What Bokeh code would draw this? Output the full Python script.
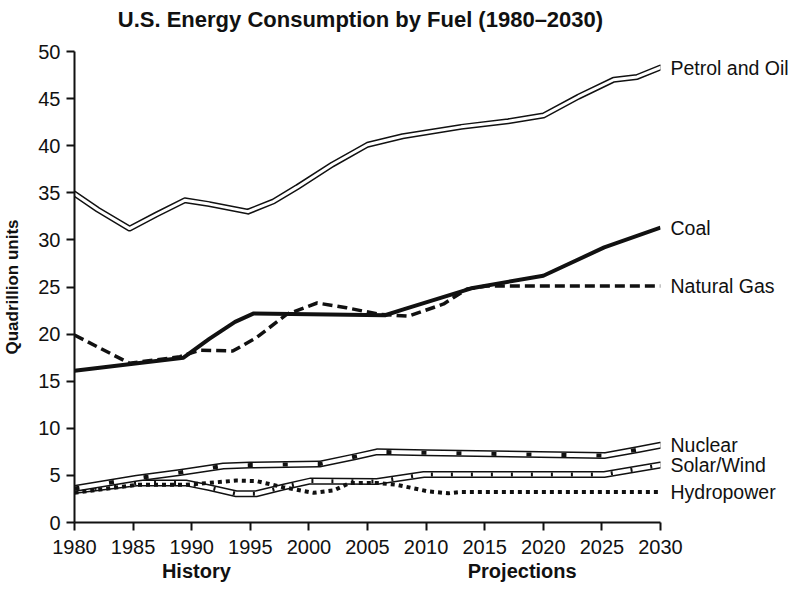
from bokeh.plotting import figure
from bokeh.models import Range1d, LinearAxis, FixedTicker
from bokeh.embed import file_html
from bokeh.resources import INLINE

# ---- data ----
petrol_years = [1980, 1982, 1984.7, 1987, 1989.4, 1991.5, 1994.8, 1997, 1999, 2002, 2005,
                2008, 2013, 2017, 2020, 2023, 2026, 2028, 2030]
petrol = [34.9, 33.2, 31.2, 32.7, 34.2, 33.8, 33.0, 34.1, 35.6, 38.0, 40.1,
          41.0, 42.0, 42.6, 43.2, 45.2, 47.0, 47.3, 48.3]

coal_years = [1980, 1989.3, 1991.5, 1993.7, 1995.3, 2006.5, 2008, 2014, 2020, 2025.2, 2030]
coal = [16.1, 17.5, 19.5, 21.3, 22.2, 22.0, 22.6, 24.9, 26.2, 29.2, 31.3]

gas_years = [1980, 1984.7, 1989, 1990.7, 1993.5, 1995.5, 1998.1, 2000.7, 2003.2, 2006,
             2008.5, 2011.5, 2013.5, 2015.2, 2030]
gas = [19.9, 16.9, 17.6, 18.3, 18.2, 19.6, 22.1, 23.3, 22.8, 22.1,
       21.9, 23.2, 24.8, 25.1, 25.1]

nuclear_years = [1980, 1985.3, 1989, 1992.7, 1995, 2000.9, 2004, 2005.8, 2010, 2025.2, 2028.1, 2030]
nuclear = [3.6, 4.7, 5.3, 6.0, 6.1, 6.2, 7.0, 7.5, 7.4, 7.1, 7.75, 8.2]

solar_years = [1980, 1985.3, 1989.5, 1991.5, 1993.8, 1995.5, 1997.8, 2000.1, 2005.8,
               2009.8, 2025.2, 2028.1, 2030]
solar = [3.4, 4.2, 4.2, 3.7, 3.05, 3.05, 3.75, 4.4, 4.35, 5.1, 5.1, 5.7, 6.1]

hydro_years = [1980, 1985.3, 1989.5, 1993.8, 1995.5, 1997.8, 2000.4, 2002.1, 2003.5,
               2005.8, 2007.5, 2010.2, 2011.9, 2013, 2030]
hydro = [3.15, 4.0, 4.0, 4.45, 4.4, 3.75, 3.15, 3.4, 4.2, 4.2, 4.0, 3.3, 3.1, 3.25, 3.25]

names = ["Petrol and Oil", "Coal", "Natural Gas", "Nuclear", "Solar/Wind", "Hydropower"]
x_ticks = [1980, 1985, 1990, 1995, 2000, 2005, 2010, 2015, 2020, 2025, 2030]
y_ticks = [0, 5, 10, 15, 20, 25, 30, 35, 40, 45, 50]
period_labels = ["History", "Projections"]
period_x = [1990.4, 2018.2]
title_text = "U.S. Energy Consumption by Fuel (1980\u20132030)"
title_x = 2004.4

FONT = "Liberation Sans"
BLACK = "#111111"

p = figure(frame_width=586, frame_height=471,
           x_range=Range1d(1980, 2030), y_range=Range1d(0, 50),
           output_backend="svg", toolbar_location=None,
           min_border_left=70, min_border_right=124, min_border_top=51, min_border_bottom=66)
p.background_fill_color = "white"
p.border_fill_color = "white"
p.outline_line_color = None
p.grid.visible = False

for ax in (p.xaxis[0], p.yaxis[0]):
    ax.axis_line_color = BLACK
    ax.axis_line_width = 2
    ax.major_tick_line_color = BLACK
    ax.major_tick_line_width = 2
    ax.major_tick_in = 0
    ax.major_tick_out = 8
    ax.minor_tick_line_color = None
    ax.major_label_text_font = FONT
    ax.major_label_text_font_size = "20px"
    ax.major_label_text_color = BLACK

p.xaxis.ticker = x_ticks
p.yaxis.ticker = y_ticks
p.xaxis.major_label_standoff = 9
p.yaxis.major_label_standoff = 6
p.yaxis.axis_label = "Quadrillion units"
p.yaxis.axis_label_text_font = FONT
p.yaxis.axis_label_text_font_size = "17px"
p.yaxis.axis_label_text_font_style = "bold"
p.yaxis.axis_label_text_color = BLACK
p.yaxis.axis_label_standoff = 13

# Solar/Wind: double line with hatch marks
p.line(solar_years, solar, line_color=BLACK, line_width=7, line_join="round", line_cap="round")
p.line(solar_years, solar, line_color="white", line_width=4, line_join="round", line_cap="round")
p.line(solar_years, solar, line_color=BLACK, line_width=4, line_dash="2 18")

# Nuclear: double line with black blocks
p.line(nuclear_years, nuclear, line_color=BLACK, line_width=7, line_join="round", line_cap="round")
p.line(nuclear_years, nuclear, line_color="white", line_width=4, line_join="round", line_cap="round")
p.line(nuclear_years, nuclear, line_color=BLACK, line_width=4, line_dash="5 30")

# Hydropower: dotted
p.line(hydro_years, hydro, line_color=BLACK, line_width=4, line_dash="4 4")

# Coal: solid
p.line(coal_years, coal, line_color=BLACK, line_width=4, line_join="round")

# Natural gas: dashed
p.line(gas_years, gas, line_color=BLACK, line_width=3.5, line_dash="10 5")

# Petrol and Oil: hollow double line
p.line(petrol_years, petrol, line_color=BLACK, line_width=6, line_join="round", line_cap="round")
p.line(petrol_years, petrol, line_color="white", line_width=3, line_join="round", line_cap="round")


def label_axis(ticks, texts, standoff, size, style="normal"):
    return LinearAxis(ticker=FixedTicker(ticks=ticks),
                      major_label_overrides={v: t for v, t in zip(ticks, texts)},
                      axis_line_color=None, major_tick_line_color=None,
                      minor_tick_line_color=None, major_tick_in=0, major_tick_out=0,
                      major_label_standoff=standoff,
                      major_label_text_font=FONT, major_label_text_font_size=size,
                      major_label_text_font_style=style, major_label_text_color=BLACK)


# title (as a label above the frame)
p.add_layout(label_axis([title_x], [title_text], 20, "22px", "bold"), "above")

# series names at the end of each line
last_vals = [petrol[-1], coal[-1], gas[-1], nuclear[-1], solar[-1], hydro[-1]]
p.add_layout(label_axis(last_vals, names, 10, "19.5px"), "right")

# "History" / "Projections" under the x axis
p.add_layout(label_axis(period_x, period_labels, 3, "20px", "bold"), "below")

open("out.html", "w").write(file_html(p, INLINE))
